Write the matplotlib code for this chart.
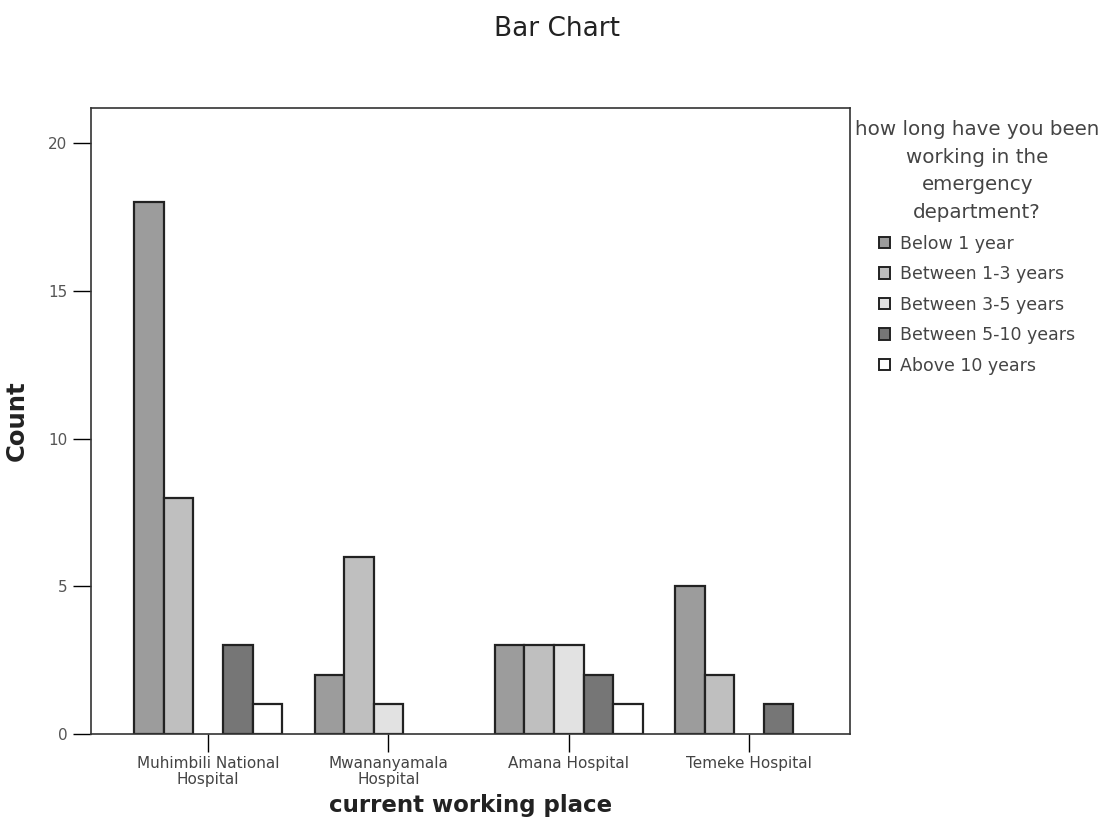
import matplotlib
matplotlib.use("Agg")
import matplotlib.pyplot as plt
from matplotlib.patches import Patch
import numpy as np

plt.rcParams['font.family'] = ['DejaVu Sans']

categories = ["Muhimbili National\nHospital", "Mwananyamala\nHospital",
              "Amana Hospital", "Temeke Hospital"]
series_names = ["Below 1 year", "Between 1-3 years", "Between 3-5 years",
                "Between 5-10 years", "Above 10 years"]
below_1 = [18, 2, 3, 5]
between_1_3 = [8, 6, 3, 2]
between_3_5 = [0, 1, 3, 0]
between_5_10 = [3, 0, 2, 1]
above_10 = [1, 0, 1, 0]
series_values = [below_1, between_1_3, between_3_5, between_5_10, above_10]
colors = ["#9c9c9c", "#bfbfbf", "#e2e2e2", "#767676", "#ffffff"]
yticks = [0, 5, 10, 15, 20]

fig = plt.figure(figsize=(11.14, 8.39), dpi=100)
ax = fig.add_axes([91/1114, 1-734/839, (850-91)/1114, (734-108)/839])

x = np.arange(len(categories))
w = 0.164
for i, (name, vals, c) in enumerate(zip(series_names, series_values, colors)):
    lws = [1.6 if v > 0 else 0 for v in vals]
    ax.bar(x + (i - 2) * w, vals, width=w, color=c, edgecolor="#222222",
           linewidth=lws)

ax.set_xlim(-0.65, 3.56)
ax.set_ylim(0, 21.2)
ax.set_yticks(yticks)
ax.set_xticks(x)
ax.set_xticklabels(categories, fontsize=11, color="#444444", linespacing=1.05)
ax.tick_params(axis='y', labelsize=11, labelcolor="#555555", length=13, width=1, pad=4)
ax.tick_params(axis='x', length=13, width=1, pad=3)
for s in ax.spines.values():
    s.set_linewidth(1.2)
    s.set_color("#333333")

ax.set_ylabel("Count", fontsize=17.5, fontweight='bold', color="#222222", labelpad=14)
ax.set_xlabel("current working place", fontsize=16.5, fontweight='bold', color="#222222", labelpad=5)
fig.text(557/1114, 1-29/839, "Bar Chart", fontsize=19, ha='center', va='center', color="#222222")

handles = [Patch(facecolor=c, edgecolor="#222222", linewidth=1.4) for c in colors]
leg = fig.legend(handles, series_names, loc='upper left', bbox_to_anchor=(855/1114, 1-120/839),
                 title="how long have you been\nworking in the\nemergency\ndepartment?",
                 frameon=False, fontsize=12.5, title_fontsize=14.3,
                 handlelength=0.65, handleheight=0.65, labelspacing=0.72,
                 handletextpad=0.6, borderaxespad=0, borderpad=0)
leg.get_title().set_color("#444444")
leg.get_title().set_multialignment('center')
leg.get_title().set_linespacing(1.58)
for t in leg.get_texts():
    t.set_color("#444444")

fig.savefig("out.png", dpi=100, facecolor="white")
